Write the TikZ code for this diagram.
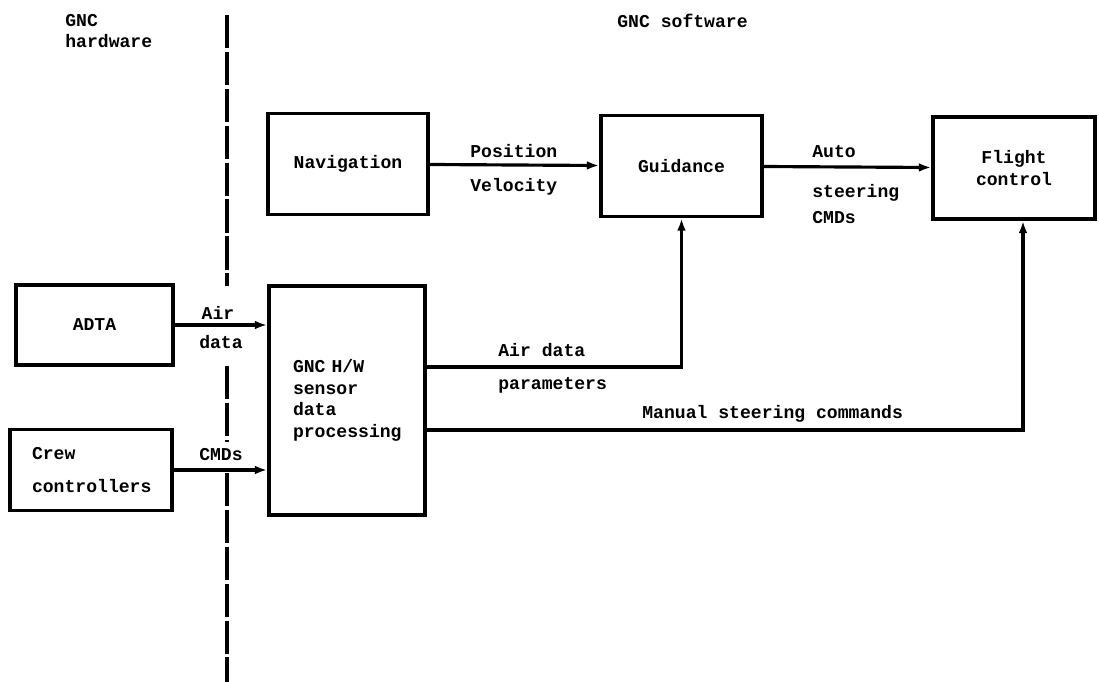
\documentclass[tikz,border=0pt]{standalone}
\usepackage{fontspec}
\setmonofont{Liberation Mono}
\usepackage{tikz}
\usetikzlibrary{positioning,arrows.meta}

\newcommand\gncfont{\ttfamily\bfseries\fontsize{10.3}{12.2}\selectfont}

\begin{document}
\begin{tikzpicture}[x=0.02cm, y=-0.02cm,
    unit/.style = {draw, line width=2.2pt, inner sep=0pt,
      align=center, font=\gncfont},
    lbl/.style = {inner sep=0pt, anchor=west, font=\gncfont},
    flow/.style = {line width=1.8pt, -{Latex[length=7pt,width=5pt]}},
    divider/.style = {line width=2.4pt, dash pattern=on 19pt off 2pt}]
    \useasboundingbox (0,0) rectangle (1099,682);

    \node[lbl, anchor=north west, align=left] (hwlbl) at (65,14) {GNC\\hardware};
    \node[lbl] (swlbl) at (617,21) {GNC software};

    % software side
    \node[unit, minimum width=3.2cm, minimum height=2.02cm] (nav) at (348,164) {Navigation};
    \node[unit, minimum width=3.22cm, minimum height=2.02cm] (guid) at (681.5,166) {Guidance};
    \node[unit, minimum width=3.24cm, minimum height=2.04cm] (flight) at (1014,168) {Flight\\control};

    % hardware side
    \node[unit, minimum width=3.14cm, minimum height=1.6cm] (adta) at (94.5,325) {ADTA};
    \node[unit, align=left, text width=2.36cm, inner xsep=0.44cm,
      minimum height=1.62cm] (crew) at (91,470) {Crew\\[6.5pt]controllers};
    \node[unit, align=left, text width=2.16cm, inner xsep=0.48cm,
      minimum height=4.58cm] (gnchw) at (347,400.5) {GNC H/W\\sensor\\data\\processing};

    \coordinate (dtop) at (227,15);
    \coordinate (dgap) at (227,286);
    \coordinate (dmid) at (227,366);
    \coordinate (dcmd) at (227,442);
    \coordinate (dlow) at (227,473);
    \coordinate (dbot) at (227,682);
    \draw[divider] (dtop) -- (dgap) (dmid) -- (dcmd) (dlow) -- (dbot);

    \draw[flow] (nav) -- (guid);
    \node[lbl] (poslbl) at (470,151) {Position};
    \node[lbl] (vellbl) at (470,187) {Velocity};

    \draw[flow] (guid) -- (flight);
    \node[lbl] (autolbl) at (812,152) {Auto};
    \node[lbl] (steerlbl) at (812,193) {steering};
    \node[lbl] (cmdlbl) at (812,218) {CMDs};

    \draw[flow] (adta.east) -- (adta.east -| gnchw.west);
    \node[lbl, anchor=center] (airlbl) at (218,313) {Air};
    \node[lbl, anchor=center] (datalbl) at (221,342) {data};

    \draw[flow] (crew.east) -- (crew.east -| gnchw.west);
    \node[lbl, anchor=center] (crewcmd) at (221,455) {CMDs};

    \coordinate (airrow) at (681,367);
    \draw[flow] (gnchw.east |- airrow) -| (guid.south);
    \node[lbl] (adplbl) at (498,350) {Air data};
    \node[lbl] (parlbl) at (498,385) {parameters};

    \coordinate (manrow) at (1023,430);
    \draw[flow] (gnchw.east |- manrow) -- (manrow) -- (manrow |- flight.south);
    \node[lbl] (manlbl) at (642,414) {Manual steering commands};
\end{tikzpicture}
\end{document}
